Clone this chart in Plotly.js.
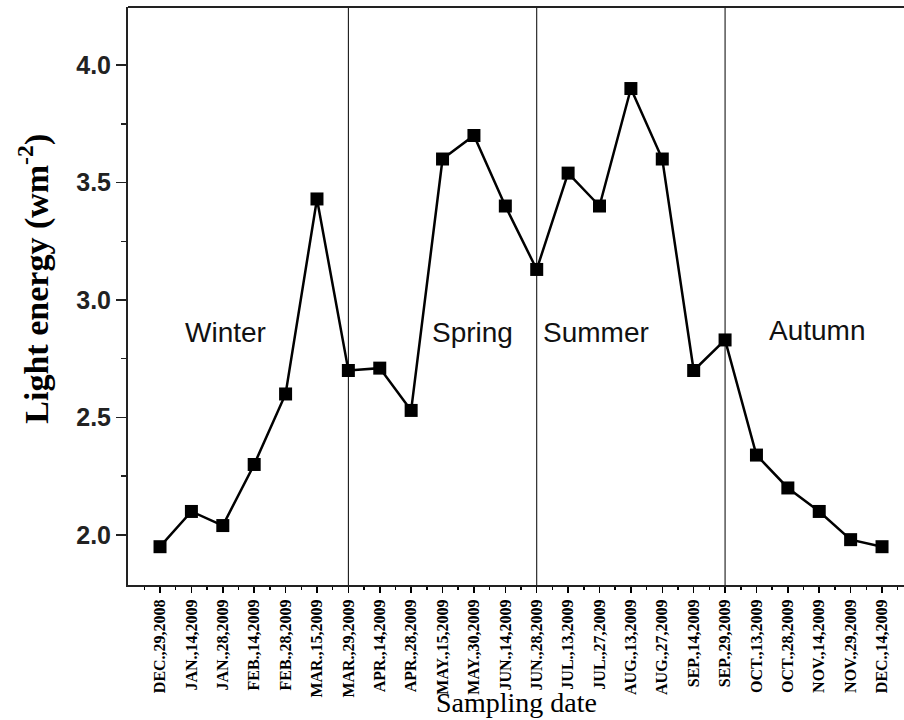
<!DOCTYPE html>
<html>
<head>
<meta charset="utf-8">
<script src="https://cdn.plot.ly/plotly-3.0.1.min.js"></script>
<style>html,body{margin:0;padding:0;background:#fff;}</style>
</head>
<body>
<div id="chart" style="width:904px;height:720px;"></div>
<script>
const dates = ["DEC.,29,2008","JAN.,14,2009","JAN.,28,2009","FEB.,14,2009","FEB.,28,2009","MAR.,15,2009","MAR.,29,2009","APR.,14,2009","APR.,28,2009","MAY.,15,2009","MAY.,30,2009","JUN.,14,2009","JUN.,28,2009","JUL.,13,2009","JUL.,27,2009","AUG.,13,2009","AUG.,27,2009","SEP.,14,2009","SEP.,29,2009","OCT.,13,2009","OCT.,28,2009","NOV.,14,2009","NOV.,29,2009","DEC.,14,2009"];
const lightEnergy = [1.95,2.10,2.04,2.30,2.60,3.43,2.70,2.71,2.53,3.60,3.70,3.40,3.13,3.54,3.40,3.90,3.60,2.70,2.83,2.34,2.20,2.10,1.98,1.95];
const seasons = ["Winter","Spring","Summer","Autumn"];
const seasonBoundaries = ["MAR.,29,2009","JUN.,28,2009","SEP.,29,2009"];
const seasonLabelX = [2.1, 9.95, 13.9, 20.95];
const seasonLabelY = [2.86, 2.86, 2.86, 2.87];
const xTitle = "Sampling date";
const yTitle = "Light energy (wm<sup>-2</sup>)";

const idx = dates.map((d,i)=>i);

const trace = {
  x: idx, y: lightEnergy, mode: 'lines+markers', type: 'scatter',
  line: {color:'#000', width:2.5},
  marker: {symbol:'square', size:13, color:'#000'},
  showlegend:false, hoverinfo:'skip', cliponaxis:false
};

const shapes = seasonBoundaries.map(b => ({
  type:'line', xref:'x', yref:'paper', x0:dates.indexOf(b), x1:dates.indexOf(b), y0:0, y1:1,
  line:{color:'#000', width:1}, layer:'below'
}));
shapes.push({type:'line', xref:'paper', yref:'paper', x0:0, x1:1, y0:1, y1:1, line:{color:'#222', width:2}});

const annotations = seasons.map((s,i)=>({
  x: seasonLabelX[i], y: seasonLabelY[i], xref:'x', yref:'y', text:s, showarrow:false,
  font:{family:'Liberation Sans, Arial, sans-serif', size:28, color:'#111'}
}));
annotations.push({
  xref:'paper', yref:'paper', x:0, y:0.53, xshift:-94, xanchor:'center', yanchor:'middle',
  textangle:-90, text:yTitle, showarrow:false,
  font:{family:'Liberation Serif, Times New Roman, serif', size:34, color:'#000', weight:'bold'}
});
annotations.push({
  xref:'paper', yref:'paper', x:0.5, y:-0.204, xanchor:'center', yanchor:'middle',
  text:xTitle, showarrow:false,
  font:{family:'Liberation Serif, Times New Roman, serif', size:28, color:'#000'}
});

const layout = {
  width:904, height:720,
  margin:{l:128, r:0, t:7, b:135},
  paper_bgcolor:'#fff', plot_bgcolor:'#fff',
  xaxis:{
    range:[-1.02, 23.7], tickmode:'array', tickvals:idx, ticktext:dates,
    tickangle:-90, ticks:'outside', ticklen:6, tickwidth:1.5, tickcolor:'#000',
    minor:{tickmode:'linear', tick0:0.5, dtick:1, ticks:'outside', ticklen:3, tickcolor:'#000'},
    showline:true, linecolor:'#222', linewidth:2, showgrid:false, zeroline:false,
    tickfont:{family:'Liberation Serif, Times New Roman, serif', size:16, color:'#000', weight:'bold'}
  },
  yaxis:{
    range:[1.787, 4.247], tickmode:'linear', tick0:2.0, dtick:0.5, tickformat:'.1f',
    ticks:'outside', ticklen:10, tickwidth:1.5, tickcolor:'#222',
    minor:{tickmode:'linear', tick0:2.25, dtick:0.5, ticks:'outside', ticklen:5, tickcolor:'#222'},
    showline:true, linecolor:'#222', linewidth:2, showgrid:false, zeroline:false,
    tickfont:{family:'Liberation Sans, Arial, sans-serif', size:25, color:'#222', weight:'bold'}
  },
  shapes: shapes,
  annotations: annotations
};

Plotly.newPlot('chart', [trace], layout, {displayModeBar:false, staticPlot:true});
</script>
</body>
</html>
